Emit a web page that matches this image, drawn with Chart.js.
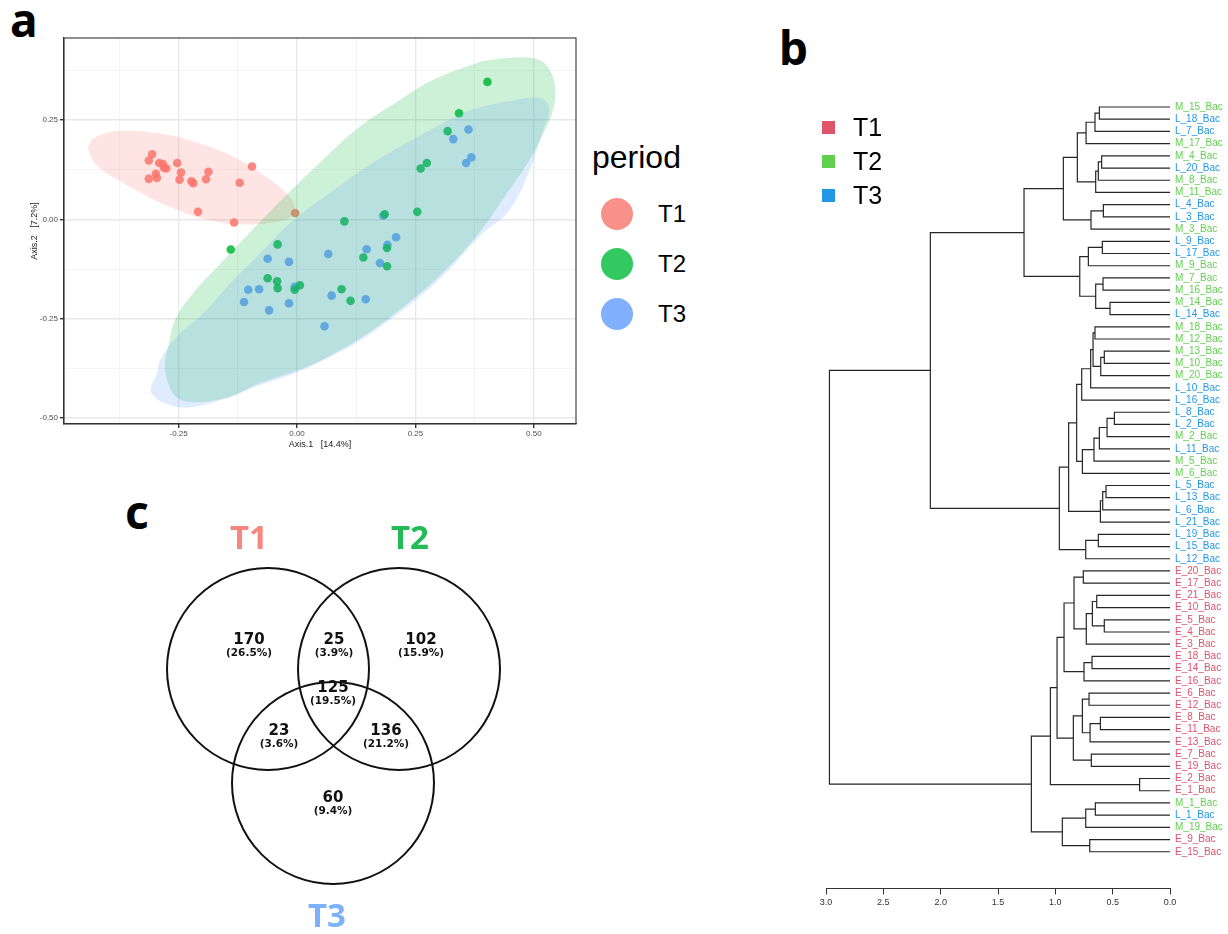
<!DOCTYPE html>
<html>
<head>
<meta charset="utf-8">
<script src="https://cdn.jsdelivr.net/npm/chart.js@4.4.1/dist/chart.umd.min.js"></script>
<style>
  body { margin: 0; background: #fff; width: 1228px; height: 934px; position: relative; overflow: hidden;
         font-family: "Liberation Sans", Arial, sans-serif; }
  canvas { position: absolute; }
  .tag { position: absolute; font-family: "Noto Sans", sans-serif; font-weight: bold; font-size: 46px; line-height: 46px; }
  .lg { position: absolute; line-height: 1; white-space: nowrap; }
  .dot { position: absolute; width: 32px; height: 32px; border-radius: 50%; }
  .sq { position: absolute; width: 13px; height: 13px; }
</style>
</head>
<body>
<div class="tag" style="left:10px;top:-4px">a</div>
<div class="tag" style="left:779px;top:24px">b</div>
<div class="tag" style="left:125px;top:488px">c</div>

<canvas id="pcoa" width="590" height="460" style="left:0;top:0"></canvas>
<canvas id="dendro" width="428" height="840" style="left:800px;top:80px"></canvas>
<canvas id="venn" width="420" height="434" style="left:130px;top:500px"></canvas>

<!-- legend, panel a -->
<div class="lg" style="left:592px;top:141px;font-size:32px">period</div>
<div class="dot" style="left:601px;top:198px;background:rgba(248,118,109,0.8)"></div>
<div class="dot" style="left:601px;top:248px;background:rgba(0,186,56,0.8)"></div>
<div class="dot" style="left:601px;top:298px;background:rgba(97,156,255,0.8)"></div>
<div class="lg" style="left:658px;top:202px;font-size:24px">T1</div>
<div class="lg" style="left:658px;top:252px;font-size:24px">T2</div>
<div class="lg" style="left:658px;top:302px;font-size:24px">T3</div>

<!-- legend, panel b -->
<div class="sq" style="left:822px;top:121px;background:#DF536B"></div>
<div class="sq" style="left:822px;top:155px;background:#61D04F"></div>
<div class="sq" style="left:822px;top:189px;background:#2297E6"></div>
<div class="lg" style="left:853px;top:115px;font-size:25px">T1</div>
<div class="lg" style="left:853px;top:149px;font-size:25px">T2</div>
<div class="lg" style="left:853px;top:183px;font-size:25px">T3</div>

<script>
Chart.defaults.font.family = '"Liberation Sans", Arial, sans-serif';

// ---- panel a: PCoA points (Axis.1, Axis.2) ----
const t1X = [-0.306,-0.313,-0.291,-0.283,-0.281,-0.276,-0.298,-0.296,-0.313,-0.253,-0.245,-0.248,-0.223,-0.219,-0.192,-0.187,-0.095,-0.121,-0.209,-0.133,-0.004];
const t1Y = [0.164,0.148,0.142,0.139,0.130,0.128,0.115,0.104,0.102,0.142,0.118,0.100,0.096,0.091,0.101,0.120,0.133,0.092,0.019,-0.008,0.016];
const t2X = [0.402,0.342,0.318,0.274,0.261,0.254,0.185,0.100,0.190,0.190,0.140,0.094,0.113,-0.041,-0.140,-0.062,-0.042,-0.041,0.006,-0.005];
const t2Y = [0.346,0.267,0.222,0.142,0.128,0.019,0.013,-0.005,-0.072,-0.118,-0.096,-0.176,-0.205,-0.063,-0.076,-0.148,-0.156,-0.173,-0.166,-0.177];
const t3X = [0.362,0.330,0.368,0.357,0.182,0.209,0.191,0.147,0.175,0.066,0.073,0.145,0.058,-0.017,-0.062,-0.080,-0.103,-0.112,-0.059,-0.017,-0.005];
const t3Y = [0.226,0.202,0.156,0.142,0.009,-0.045,-0.064,-0.075,-0.110,-0.087,-0.192,-0.201,-0.269,-0.107,-0.099,-0.176,-0.177,-0.208,-0.229,-0.211,-0.170];

// ellipse outlines
const t1EllX = [-0.442,-0.430,-0.380,-0.289,-0.205,-0.127,-0.050,-0.020,-0.006,-0.010,-0.036,-0.106,-0.184,-0.268,-0.359,-0.423,-0.442];
const t1EllY = [0.178,0.203,0.222,0.216,0.191,0.153,0.094,0.062,0.036,0.010,-0.004,-0.013,-0.003,0.031,0.086,0.136,0.178];
const t2EllX = [0.390,0.447,0.504,0.532,0.545,0.539,0.518,0.487,0.447,0.383,0.305,0.241,0.148,0.077,0.006,-0.078,-0.137,-0.177,-0.219,-0.254,-0.272,-0.279,-0.272,-0.257,-0.219,-0.167,-0.105,-0.030,0.049,0.133,0.219,0.291,0.390];
const t2EllY = [0.398,0.406,0.404,0.379,0.328,0.269,0.212,0.142,0.072,-0.036,-0.137,-0.204,-0.288,-0.338,-0.378,-0.412,-0.445,-0.456,-0.460,-0.448,-0.412,-0.370,-0.320,-0.252,-0.185,-0.118,-0.040,0.052,0.144,0.234,0.302,0.353,0.398];
const t3EllX = [0.432,0.504,0.527,0.532,0.520,0.494,0.449,0.388,0.310,0.245,0.150,0.077,0.006,-0.080,-0.150,-0.205,-0.247,-0.275,-0.300,-0.309,-0.296,-0.289,-0.254,-0.198,-0.148,-0.078,-0.008,0.077,0.148,0.219,0.290,0.362,0.432];
const t3EllY = [0.294,0.307,0.295,0.269,0.226,0.133,0.024,-0.040,-0.140,-0.208,-0.292,-0.342,-0.382,-0.418,-0.450,-0.469,-0.473,-0.464,-0.448,-0.427,-0.389,-0.355,-0.296,-0.237,-0.170,-0.086,-0.003,0.073,0.133,0.184,0.230,0.273,0.294];

// ---- panel b: dendrogram ----
const leaves = ['M_15','L_18','L_7','M_17','M_4','L_20','M_8','M_11','L_4','L_3','M_3','L_9','L_17','M_9','M_7','M_16','M_14','L_14',
  'M_18','M_12','M_13','M_10','M_20','L_10','L_16','L_8','L_2','M_2','L_11','M_5','M_6','L_5','L_13','L_6','L_21','L_19','L_15','L_12',
  'E_20','E_17','E_21','E_10','E_5','E_4','E_3','E_18','E_14','E_16','E_6','E_12','E_8','E_11','E_13','E_7','E_19','E_2','E_1',
  'M_1','L_1','M_19','E_9','E_15'];
// [left, right, height]; a number refers to an earlier row
const linkage = [
  ['M_15','L_18',0.616], [0,'L_7',0.654], [1,'M_17',0.732], ['M_4','L_20',0.596], [3,'M_8',0.625], [4,'M_11',0.648],
  [2,5,0.808], ['L_4','L_3',0.581], [7,'M_3',0.689], [6,8,0.930], ['L_9','L_17',0.590], [10,'M_9',0.712],
  ['M_7','M_16',0.584], ['M_14','L_14',0.523], [12,13,0.648], [11,14,0.787], [9,15,1.273],
  ['M_18','M_12',0.654], ['M_13','M_10',0.573], [18,'M_20',0.604], [17,19,0.671], [20,'L_10',0.692], [21,'L_16',0.770],
  ['L_8','L_2',0.485], [23,'M_2',0.549], [24,'L_11',0.616], [25,'M_5',0.663], [26,'M_6',0.764], [22,27,0.814],
  ['L_5','L_13',0.558], [29,'L_6',0.587], [30,'L_21',0.607], [28,31,0.884], ['L_19','L_15',0.625], [33,'L_12',0.735],
  [32,34,0.965], [16,35,2.090],
  ['E_20','E_17',0.756], ['E_21','E_10',0.639], ['E_5','E_4',0.573], [38,39,0.677], [40,'E_3',0.730], [37,41,0.837],
  ['E_18','E_14',0.680], [43,'E_16',0.750], [42,44,0.924], ['E_6','E_12',0.706], ['E_8','E_11',0.607], [47,'E_13',0.697],
  [46,48,0.764], ['E_7','E_19',0.686], [49,50,0.843], [45,51,0.985], ['E_2','E_1',0.265], [52,53,1.043],
  ['M_1','L_1',0.651], [55,'M_19',0.735], ['E_9','E_15',0.700], [56,57,0.939], [54,58,1.209], [36,59,2.970]
];
const periodOf = {E: 'T1', M: 'T2', L: 'T3'};
const periodColor = {T1: '#DF536B', T2: '#61D04F', T3: '#2297E6'};

// ---- panel c: Venn ----
const vennSets = ['T1', 'T2', 'T3'];
const vennSetColor = ['#F8877F', '#22BB55', '#7EB1FB'];
const regionNames = ['T1', 'T1&T2', 'T2', 'T1&T2&T3', 'T1&T3', 'T2&T3', 'T3'];
const regionCounts = [170, 25, 102, 125, 23, 136, 60];

// ===== panel a =====
const pts = (xs, ys) => xs.map((x, i) => ({x, y: ys[i]}));
const isMajor = v => Math.abs(v / 0.25 - Math.round(v / 0.25)) < 1e-6;
const tickMajor = ctx => ctx.tick && isMajor(ctx.tick.value);

const boxPlugin = {
  id: 'box',
  afterDraw(chart) {
    const {ctx, chartArea: a} = chart;
    ctx.save();
    ctx.strokeStyle = '#333';
    ctx.lineWidth = 1.1;
    ctx.strokeRect(a.left, a.top, a.right - a.left, a.bottom - a.top);
    ctx.restore();
  }
};

const ell = (xs, ys, col, order) => ({
  data: pts(xs, ys), showLine: true, fill: 'shape', tension: 0.4,
  backgroundColor: col, borderWidth: 0, pointRadius: 0, order
});
const dots = (xs, ys, col) => ({
  data: pts(xs, ys), backgroundColor: col, borderWidth: 0, pointRadius: 4.3, order: 5
});

const axisA = (title, isX) => ({
  min: isX ? -0.492 : -0.515,
  max: isX ? 0.589 : 0.4565,
  ticks: {
    stepSize: 0.125, includeBounds: false, autoSkip: false, maxRotation: 0,
    callback: v => isMajor(v) ? v.toFixed(2) : '',
    font: {size: 8}, color: '#4d4d4d', padding: isX ? 1 : 2
  },
  grid: {
    color: ctx => tickMajor(ctx) ? '#e8e8e8' : '#f1f1f1',
    lineWidth: ctx => tickMajor(ctx) ? 1.4 : 0.8,
    tickLength: 4,
    tickColor: ctx => tickMajor(ctx) ? '#333' : 'rgba(0,0,0,0)'
  },
  border: {color: '#333', width: 1.1},
  title: {display: true, text: title, font: {size: 9}, color: '#1a1a1a',
          padding: isX ? {top: 0, bottom: 0} : {top: 3, bottom: 0}},
  afterFit: s => { if (isX) s.height = 26; else s.width = 38; }
});

new Chart(document.getElementById('pcoa'), {
  type: 'scatter',
  data: {
    datasets: [
      dots(t1X, t1Y, 'rgba(248,118,109,0.85)'),
      dots(t2X, t2Y, 'rgba(0,186,56,0.85)'),
      dots(t3X, t3Y, 'rgba(97,156,255,0.85)'),
      ell(t1EllX, t1EllY, 'rgba(248,118,109,0.2)', 2),
      ell(t2EllX, t2EllY, 'rgba(0,186,56,0.2)', 1),
      ell(t3EllX, t3EllY, 'rgba(97,156,255,0.2)', 0)
    ]
  },
  options: {
    responsive: false, animation: false, events: [],
    layout: {padding: {left: 26, top: 38, right: 14, bottom: 10}},
    plugins: {legend: {display: false}, tooltip: {enabled: false}},
    scales: {x: axisA('Axis.1   [14.4%]', true), y: axisA('Axis.2   [7.2%]', false)}
  },
  plugins: [boxPlugin]
});

// ===== panel b =====
const nodeY = [], nodeH = [];
const place = ref => typeof ref === 'number'
  ? {y: nodeY[ref], h: nodeH[ref]}
  : {y: leaves.indexOf(ref), h: 0};
const links = linkage.map(([a, b, h], i) => {
  const A = place(a), B = place(b);
  nodeY[i] = (A.y + B.y) / 2;
  nodeH[i] = h;
  return {
    data: [{x: A.h, y: A.y}, {x: h, y: A.y}, {x: h, y: B.y}, {x: B.h, y: B.y}],
    showLine: true, borderColor: '#262626', borderWidth: 1.2, pointRadius: 0, tension: 0
  };
});

new Chart(document.getElementById('dendro'), {
  type: 'scatter',
  data: {datasets: links},
  options: {
    responsive: false, animation: false, events: [],
    layout: {padding: {left: 26, top: 14.8, right: 0, bottom: 6.6}},
    plugins: {legend: {display: false}, tooltip: {enabled: false}},
    scales: {
      x: {
        reverse: true, min: 0, max: 3,
        ticks: {stepSize: 0.5, callback: v => v.toFixed(1), font: {size: 9}, color: '#333', padding: 3, maxRotation: 0},
        grid: {drawOnChartArea: false, tickLength: 6, tickColor: '#333'},
        border: {color: '#333'},
        afterFit: s => { s.height = 25; }
      },
      y: {
        position: 'right', reverse: true, min: -1, max: 64,
        ticks: {
          stepSize: 1, autoSkip: false, includeBounds: false, padding: 5, font: {size: 10},
          callback: v => leaves[v] ? leaves[v] + '_Bac' : '',
          color: ctx => leaves[ctx.tick.value] ? periodColor[periodOf[leaves[ctx.tick.value][0]]] : '#000'
        },
        grid: {display: false, drawTicks: false},
        border: {display: false},
        afterFit: s => { s.width = 58; }
      }
    }
  }
});

// ===== panel c =====
// layout of the diagram (canvas pixels): circle centres, radius, label anchors
const circleX = [138, 269, 203];
const circleY = [169, 169, 283];
const circleR = 101;
const titleX = [119, 280, 197];
const titleY = [40, 40, 418];
const regionX = [119, 204, 291, 203, 149, 256, 203];
const regionY = [140, 140, 140, 188, 231, 231, 298];
const total = regionCounts.reduce((s, v) => s + v, 0);

const vennText = {
  id: 'vennText',
  afterDatasetsDraw(chart) {
    const {ctx} = chart;
    const sx = chart.scales.x, sy = chart.scales.y;
    ctx.save();
    ctx.textAlign = 'center';
    ctx.textBaseline = 'middle';
    vennSets.forEach((name, i) => {
      ctx.fillStyle = vennSetColor[i];
      ctx.font = 'bold 33px "Noto Sans", sans-serif';
      ctx.fillText(name, sx.getPixelForValue(titleX[i]), sy.getPixelForValue(titleY[i]));
    });
    ctx.fillStyle = '#111';
    regionCounts.forEach((c, i) => {
      const x = sx.getPixelForValue(regionX[i]), y = sy.getPixelForValue(regionY[i]);
      ctx.font = 'bold 15px "DejaVu Sans", sans-serif';
      ctx.fillText(String(c), x, y);
      ctx.font = 'bold 10.5px "DejaVu Sans", sans-serif';
      ctx.fillText('(' + (c / total * 100).toFixed(1) + '%)', x, y + 13.5);
    });
    ctx.restore();
  }
};

new Chart(document.getElementById('venn'), {
  type: 'bubble',
  data: {
    datasets: [{
      data: circleX.map((x, i) => ({x, y: circleY[i], r: circleR})),
      backgroundColor: 'rgba(0,0,0,0)', borderColor: '#111', borderWidth: 2, clip: false
    }]
  },
  options: {
    responsive: false, animation: false, events: [],
    layout: {padding: 0, autoPadding: false},
    plugins: {legend: {display: false}, tooltip: {enabled: false}},
    scales: {
      x: {display: false, min: 0, max: 420},
      y: {display: false, min: 0, max: 434, reverse: true}
    }
  },
  plugins: [vennText]
});
</script>
</body>
</html>
